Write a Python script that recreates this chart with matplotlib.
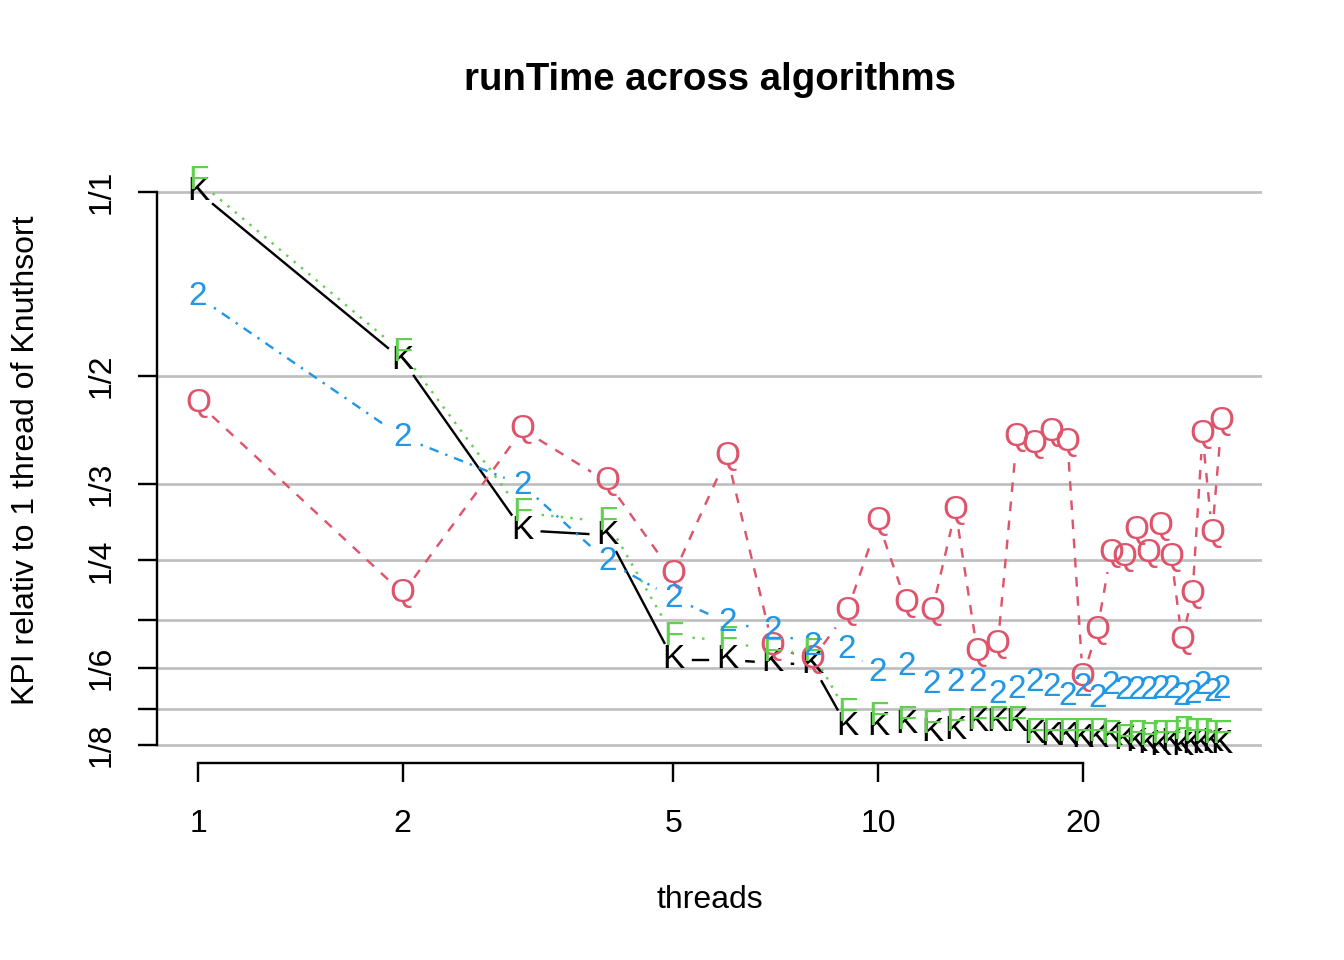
import numpy as np
import matplotlib.pyplot as plt

plt.rcParams['font.family'] = ['Liberation Sans', 'DejaVu Sans']

# threads and runtime relative to 1 thread of Knuthsort
threads = np.arange(1, 33)
knuth = [1.0, 0.531, 0.280, 0.275, 0.172, 0.172, 0.170, 0.169, 0.134, 0.134, 0.135, 0.131,
         0.132, 0.136, 0.136, 0.136, 0.130, 0.129, 0.129, 0.128, 0.128, 0.129, 0.127, 0.126,
         0.125, 0.124, 0.126, 0.124, 0.125, 0.125, 0.126, 0.125]
quick = [0.452, 0.221, 0.409, 0.336, 0.237, 0.370, 0.181, 0.172, 0.206, 0.289, 0.213, 0.206,
         0.302, 0.177, 0.182, 0.397, 0.386, 0.404, 0.389, 0.161, 0.192, 0.257, 0.253, 0.280,
         0.257, 0.284, 0.253, 0.185, 0.220, 0.401, 0.277, 0.421]
frog = [1.042, 0.546, 0.299, 0.289, 0.188, 0.185, 0.177, 0.177, 0.141, 0.139, 0.137, 0.135,
        0.136, 0.137, 0.137, 0.137, 0.131, 0.131, 0.131, 0.131, 0.131, 0.130, 0.128, 0.130,
        0.129, 0.130, 0.130, 0.132, 0.131, 0.131, 0.130, 0.130]
two = [0.674, 0.397, 0.332, 0.249, 0.217, 0.198, 0.192, 0.181, 0.179, 0.164, 0.168, 0.157,
       0.158, 0.158, 0.151, 0.154, 0.158, 0.155, 0.150, 0.155, 0.149, 0.156, 0.153, 0.153,
       0.153, 0.154, 0.154, 0.150, 0.151, 0.156, 0.152, 0.154]

symbols = ['K', 'Q', 'F', '2']
colors = ['black', '#DF536B', '#61D04F', '#2297E6']
styles = ['-', (0, (4, 4)), (0, (1, 3)), (0, (1, 3, 4, 3))]
data = [knuth, quick, frog, two]

ytick_vals = [1 / k for k in range(1, 9)]
ytick_labels = ['1/1', '1/2', '1/3', '1/4', '', '1/6', '', '1/8']
xtick_vals = [1, 2, 5, 10, 20]

dpi = 192
fig = plt.figure(figsize=(7, 5), dpi=dpi)
ax = fig.add_axes([157 / 1344, 1 - 763 / 960, 1105 / 1344, 605 / 960])

ax.set_xscale('log', base=2)
ax.set_yscale('log', base=2)
ax.set_xlim(0.87, 36.7)
ax.set_ylim(0.1167, 1.136)

for v in ytick_vals:
    ax.axhline(v, color='#BEBEBE', lw=1.0, zorder=0)

# R type="b": lines with gaps around the point symbols
gap = 0.1 * dpi
to_disp = ax.transData
to_data = ax.transData.inverted()
for i, (vals, sym, col, ls) in enumerate(zip(data, symbols, colors, styles)):
    pts = to_disp.transform(np.column_stack([threads, vals]))
    for p0, p1 in zip(pts[:-1], pts[1:]):
        d = np.hypot(*(p1 - p0))
        f = gap / d
        if f < 0.5:
            a = p0 + f * (p1 - p0)
            b = p1 - f * (p1 - p0)
            seg = to_data.transform(np.vstack([a, b]))
            ax.plot(seg[:, 0], seg[:, 1], color=col, lw=0.9, linestyle=ls, zorder=2 + i)
    for x, y in zip(threads, vals):
        ax.text(x, y, sym, color=col, fontsize=12.5, ha='center', va='center', zorder=2 + i)

for s in ['top', 'right']:
    ax.spines[s].set_visible(False)
ax.spines['bottom'].set_bounds(1, 20)
ax.spines['left'].set_bounds(1 / 8, 1)
for s in ['bottom', 'left']:
    ax.spines[s].set_linewidth(0.9)

ax.set_xticks(xtick_vals)
ax.set_xticklabels([str(v) for v in xtick_vals])
ax.set_yticks(ytick_vals)
ax.set_yticklabels(ytick_labels, rotation=90, va='center')
ax.minorticks_off()
ax.tick_params(axis='x', length=7.2, width=0.9, labelsize=12, pad=10)
ax.tick_params(axis='y', length=7.2, width=0.9, labelsize=12, pad=8)

ax.set_xlabel('threads', fontsize=12)
ax.xaxis.label.set_va('center')
ax.xaxis.set_label_coords(0.5, (763 - 900) / 605)
ax.set_ylabel('KPI relativ to 1 thread of Knuthsort', fontsize=12)
ax.yaxis.label.set_va('center')
ax.yaxis.set_label_coords((26 - 157) / 1105, 0.5)

fig.text((157 + 1262) / 2 / 1344, 1 - 80 / 960, 'runTime across algorithms',
         fontsize=14.4, fontweight='bold', ha='center', va='center')

fig.savefig('out.png', dpi=dpi)
